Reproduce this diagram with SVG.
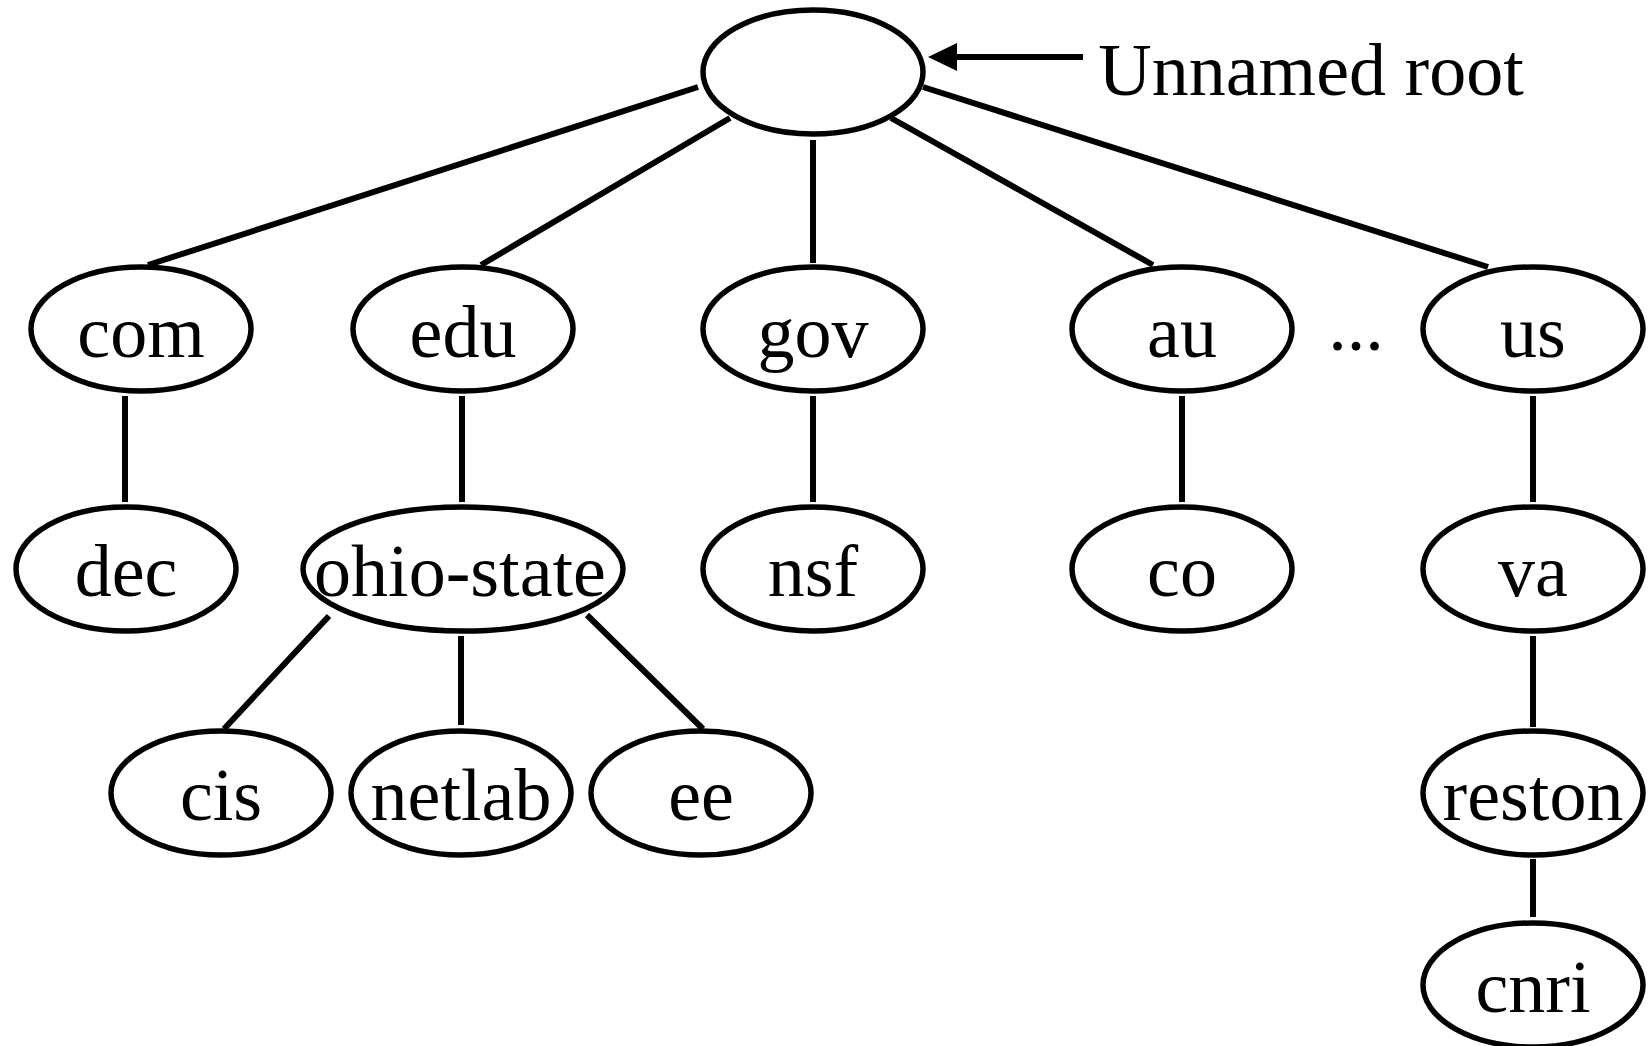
<svg xmlns="http://www.w3.org/2000/svg" width="1650" height="1046" viewBox="0 0 1650 1046">
<style>
.n{fill:#fff;stroke:#000;stroke-width:5.5}
.t{font-family:"Liberation Serif","Times New Roman",serif;font-size:74px;fill:#000;text-anchor:middle}
.l{stroke:#000;stroke-width:6;fill:none}
</style>
<rect width="1650" height="1046" fill="#fff"/>
<g id="connectors">
<line class="l" x1="698" y1="87" x2="148" y2="265"/>
<line class="l" x1="730" y1="118" x2="481" y2="265"/>
<line class="l" x1="813" y1="140" x2="813" y2="263"/>
<line class="l" x1="891" y1="118" x2="1153" y2="265"/>
<line class="l" x1="923" y1="87" x2="1488" y2="267"/>
<line class="l" x1="125" y1="396" x2="125" y2="502"/>
<line class="l" x1="462" y1="396" x2="462" y2="502"/>
<line class="l" x1="813" y1="396" x2="813" y2="502"/>
<line class="l" x1="1182" y1="396" x2="1182" y2="502"/>
<line class="l" x1="1533" y1="396" x2="1533" y2="502"/>
<line class="l" x1="329" y1="616" x2="224" y2="729"/>
<line class="l" x1="461" y1="636" x2="461" y2="725"/>
<line class="l" x1="587" y1="615" x2="703" y2="729"/>
<line class="l" x1="1533" y1="636" x2="1533" y2="727"/>
<line class="l" x1="1533" y1="859" x2="1533" y2="917"/>
<line class="l" x1="1083" y1="57" x2="950" y2="57"/>
<polygon points="928,57 957,43 957,71" fill="#000"/>
</g>
<g id="root"><ellipse class="n" cx="813" cy="72" rx="110" ry="62"/></g>
<g id="root-label"><text class="t" x="1311" y="95">Unnamed root</text></g>
<g id="com"><ellipse class="n" cx="141" cy="329" rx="110" ry="62"/><text class="t" x="141" y="357">com</text></g>
<g id="edu"><ellipse class="n" cx="463" cy="329" rx="110" ry="62"/><text class="t" x="463" y="357">edu</text></g>
<g id="gov"><ellipse class="n" cx="813" cy="329" rx="110" ry="62"/><text class="t" x="813" y="357">gov</text></g>
<g id="au"><ellipse class="n" cx="1182" cy="329" rx="110" ry="62"/><text class="t" x="1182" y="357">au</text></g>
<g id="ellipsis"><text class="t" x="1356" y="350">...</text></g>
<g id="us"><ellipse class="n" cx="1533" cy="329" rx="110" ry="62"/><text class="t" x="1533" y="357">us</text></g>
<g id="dec"><ellipse class="n" cx="126" cy="569" rx="110" ry="62"/><text class="t" x="126" y="596">dec</text></g>
<g id="ohio-state"><ellipse class="n" cx="463" cy="569" rx="160" ry="62"/><text class="t" x="460" y="596">ohio-state</text></g>
<g id="nsf"><ellipse class="n" cx="813" cy="569" rx="110" ry="62"/><text class="t" x="813" y="596">nsf</text></g>
<g id="co"><ellipse class="n" cx="1182" cy="569" rx="110" ry="62"/><text class="t" x="1182" y="596">co</text></g>
<g id="va"><ellipse class="n" cx="1533" cy="569" rx="110" ry="62"/><text class="t" x="1533" y="596">va</text></g>
<g id="cis"><ellipse class="n" cx="221" cy="793" rx="110" ry="62"/><text class="t" x="221" y="820">cis</text></g>
<g id="netlab"><ellipse class="n" cx="461" cy="793" rx="110" ry="62"/><text class="t" x="461" y="820">netlab</text></g>
<g id="ee"><ellipse class="n" cx="701" cy="793" rx="110" ry="62"/><text class="t" x="701" y="820">ee</text></g>
<g id="reston"><ellipse class="n" cx="1533" cy="793" rx="110" ry="62"/><text class="t" x="1533" y="820">reston</text></g>
<g id="cnri"><ellipse class="n" cx="1533" cy="985" rx="110" ry="62"/><text class="t" x="1533" y="1012">cnri</text></g>
</svg>
